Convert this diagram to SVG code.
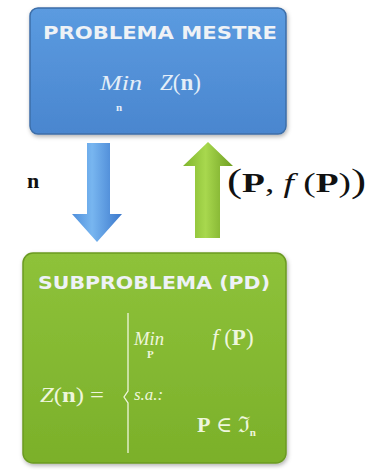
<svg xmlns="http://www.w3.org/2000/svg" width="368" height="470" viewBox="0 0 368 470">
<defs>
<linearGradient id="gBlue" x1="0" y1="0" x2="0" y2="1"><stop offset="0" stop-color="#5b9be0"/><stop offset="1" stop-color="#4a86cf"/></linearGradient>
<linearGradient id="gGreen" x1="0" y1="0" x2="0" y2="1"><stop offset="0" stop-color="#8ec23a"/><stop offset="1" stop-color="#7bb02a"/></linearGradient>
<linearGradient id="aBlue" x1="0" y1="0" x2="1" y2="0"><stop offset="0" stop-color="#4f8fdc"/><stop offset="0.4" stop-color="#78b6f0"/><stop offset="1" stop-color="#3b78cc"/></linearGradient>
<linearGradient id="aGreen" x1="0" y1="0" x2="1" y2="0"><stop offset="0" stop-color="#7fb52c"/><stop offset="0.45" stop-color="#a8d84e"/><stop offset="1" stop-color="#6f9f22"/></linearGradient>
<filter id="sh" x="-10%" y="-10%" width="120%" height="125%"><feDropShadow dx="1" dy="2" stdDeviation="2" flood-color="#000" flood-opacity="0.3"/></filter>
</defs>
<style>
.title{font-family:"DejaVu Sans","Liberation Sans",sans-serif;font-weight:bold;font-size:18px;fill:#eef2f6}
.m{font-family:"Liberation Serif","DejaVu Serif",serif;fill:#e4eef8}
.mg{font-family:"Liberation Serif","DejaVu Serif",serif;fill:#eef6dc}
.k{font-family:"Liberation Serif","DejaVu Serif",serif;fill:#111}
.i{font-style:italic}
.b{font-weight:bold}
</style>
<rect width="368" height="470" fill="#ffffff"/>
<g id="mestre">
<rect x="30" y="8" width="256" height="126" rx="8" fill="url(#gBlue)" stroke="#3c6ea8" stroke-width="1.5" filter="url(#sh)"/>
<text class="title" x="43" y="39" textLength="234" lengthAdjust="spacingAndGlyphs">PROBLEMA MESTRE</text>
<text class="m i" x="100" y="90" font-size="21" textLength="42" lengthAdjust="spacingAndGlyphs">Min</text>
<text class="m b" x="116" y="111" font-size="11">n</text>
<text class="m" x="160" y="90" font-size="23"><tspan class="i">Z</tspan>(<tspan class="b">n</tspan>)</text>
</g>
<g id="connectors">
<path d="M87,143 L110,143 L110,214 L122,214 L97,242 L72,214 L87,214 Z" fill="url(#aBlue)"/>
<path d="M208,142 L233,166 L220,166 L220,238 L195,238 L195,166 L183,166 Z" fill="url(#aGreen)"/>
<text class="k b" x="27" y="188" font-size="22">n</text>
<text class="k" x="227" y="192" font-size="28" textLength="139" lengthAdjust="spacingAndGlyphs"><tspan font-size="34">(</tspan><tspan class="b">P</tspan>, <tspan class="i">f</tspan> (<tspan class="b">P</tspan>)<tspan font-size="34">)</tspan></text>
</g>
<g id="subproblema">
<rect x="23" y="253" width="263" height="210" rx="10" fill="url(#gGreen)" stroke="#6b9a20" stroke-width="1.5" filter="url(#sh)"/>
<text class="title" x="38" y="289" textLength="232" lengthAdjust="spacingAndGlyphs">SUBPROBLEMA (PD)</text>
<path d="M128,313 L128,391 L124,397 L128,403 L128,453" fill="none" stroke="#eef6dc" stroke-width="1.3"/>
<text class="mg i" x="134" y="345" font-size="19" textLength="30" lengthAdjust="spacingAndGlyphs">Min</text>
<text class="mg b" x="147" y="358" font-size="11">P</text>
<text class="mg" x="212" y="345" font-size="23"><tspan class="i">f</tspan> (<tspan class="b">P</tspan>)</text>
<text class="mg" x="40" y="402" font-size="21" textLength="64" lengthAdjust="spacingAndGlyphs"><tspan class="i">Z</tspan>(<tspan class="b">n</tspan>) =</text>
<text class="mg i" x="134" y="400" font-size="17">s.a.:</text>
<text class="mg" x="197" y="432" font-size="22"><tspan class="b">P</tspan> ∈ ℑ<tspan class="b" font-size="11" dy="4">n</tspan></text>
</g>
</svg>
